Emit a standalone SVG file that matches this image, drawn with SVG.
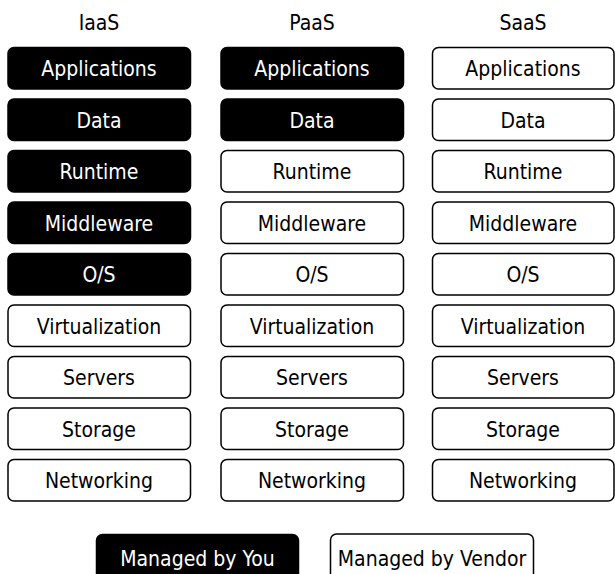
<svg xmlns="http://www.w3.org/2000/svg" width="615" height="574" viewBox="0 0 615 574">
<style>
text{font-family:"DejaVu Sans Condensed","DejaVu Sans",sans-serif;font-stretch:condensed;font-size:21px;text-anchor:middle}
.you rect{fill:#000;stroke:#000;stroke-width:1.5}
.you text{fill:#fff}
.ven rect{fill:#fff;stroke:#000;stroke-width:1.5}
.ven text{fill:#000}
.hdr{fill:#000}
</style>
<rect width="615" height="574" fill="#fff"/>
<g id="headers">
<text class="hdr" x="99" y="30">IaaS</text>
<text class="hdr" x="312" y="30">PaaS</text>
<text class="hdr" x="523" y="30">SaaS</text>
</g>
<g id="connectors"></g>
<!-- IaaS -->
<g id="iaas-applications" class="you"><rect x="8" y="47.5" width="182.5" height="41.5" rx="6"/><text x="99" y="76">Applications</text></g>
<g id="iaas-data" class="you"><rect x="8" y="99" width="182.5" height="41.5" rx="6"/><text x="99" y="127.5">Data</text></g>
<g id="iaas-runtime" class="you"><rect x="8" y="150.5" width="182.5" height="41.5" rx="6"/><text x="99" y="179">Runtime</text></g>
<g id="iaas-middleware" class="you"><rect x="8" y="202" width="182.5" height="41.5" rx="6"/><text x="99" y="230.5">Middleware</text></g>
<g id="iaas-os" class="you"><rect x="8" y="253.5" width="182.5" height="41.5" rx="6"/><text x="99" y="282">O/S</text></g>
<g id="iaas-virtualization" class="ven"><rect x="8" y="305" width="182.5" height="41.5" rx="6"/><text x="99" y="333.5">Virtualization</text></g>
<g id="iaas-servers" class="ven"><rect x="8" y="356.5" width="182.5" height="41.5" rx="6"/><text x="99" y="385">Servers</text></g>
<g id="iaas-storage" class="ven"><rect x="8" y="408" width="182.5" height="41.5" rx="6"/><text x="99" y="436.5">Storage</text></g>
<g id="iaas-networking" class="ven"><rect x="8" y="459.5" width="182.5" height="41.5" rx="6"/><text x="99" y="488">Networking</text></g>
<!-- PaaS -->
<g id="paas-applications" class="you"><rect x="221" y="47.5" width="182.5" height="41.5" rx="6"/><text x="312" y="76">Applications</text></g>
<g id="paas-data" class="you"><rect x="221" y="99" width="182.5" height="41.5" rx="6"/><text x="312" y="127.5">Data</text></g>
<g id="paas-runtime" class="ven"><rect x="221" y="150.5" width="182.5" height="41.5" rx="6"/><text x="312" y="179">Runtime</text></g>
<g id="paas-middleware" class="ven"><rect x="221" y="202" width="182.5" height="41.5" rx="6"/><text x="312" y="230.5">Middleware</text></g>
<g id="paas-os" class="ven"><rect x="221" y="253.5" width="182.5" height="41.5" rx="6"/><text x="312" y="282">O/S</text></g>
<g id="paas-virtualization" class="ven"><rect x="221" y="305" width="182.5" height="41.5" rx="6"/><text x="312" y="333.5">Virtualization</text></g>
<g id="paas-servers" class="ven"><rect x="221" y="356.5" width="182.5" height="41.5" rx="6"/><text x="312" y="385">Servers</text></g>
<g id="paas-storage" class="ven"><rect x="221" y="408" width="182.5" height="41.5" rx="6"/><text x="312" y="436.5">Storage</text></g>
<g id="paas-networking" class="ven"><rect x="221" y="459.5" width="182.5" height="41.5" rx="6"/><text x="312" y="488">Networking</text></g>
<!-- SaaS -->
<g id="saas-applications" class="ven"><rect x="432.5" y="47.5" width="181.5" height="41.5" rx="6"/><text x="523" y="76">Applications</text></g>
<g id="saas-data" class="ven"><rect x="432.5" y="99" width="181.5" height="41.5" rx="6"/><text x="523" y="127.5">Data</text></g>
<g id="saas-runtime" class="ven"><rect x="432.5" y="150.5" width="181.5" height="41.5" rx="6"/><text x="523" y="179">Runtime</text></g>
<g id="saas-middleware" class="ven"><rect x="432.5" y="202" width="181.5" height="41.5" rx="6"/><text x="523" y="230.5">Middleware</text></g>
<g id="saas-os" class="ven"><rect x="432.5" y="253.5" width="181.5" height="41.5" rx="6"/><text x="523" y="282">O/S</text></g>
<g id="saas-virtualization" class="ven"><rect x="432.5" y="305" width="181.5" height="41.5" rx="6"/><text x="523" y="333.5">Virtualization</text></g>
<g id="saas-servers" class="ven"><rect x="432.5" y="356.5" width="181.5" height="41.5" rx="6"/><text x="523" y="385">Servers</text></g>
<g id="saas-storage" class="ven"><rect x="432.5" y="408" width="181.5" height="41.5" rx="6"/><text x="523" y="436.5">Storage</text></g>
<g id="saas-networking" class="ven"><rect x="432.5" y="459.5" width="181.5" height="41.5" rx="6"/><text x="523" y="488">Networking</text></g>
<!-- Legend -->
<g id="legend-you" class="you"><rect x="96.5" y="534.5" width="202" height="50" rx="6"/><text x="197.5" y="566">Managed by You</text></g>
<g id="legend-vendor" class="ven"><rect x="330.5" y="534" width="203" height="50" rx="6"/><text x="432" y="566">Managed by Vendor</text></g>
</svg>
